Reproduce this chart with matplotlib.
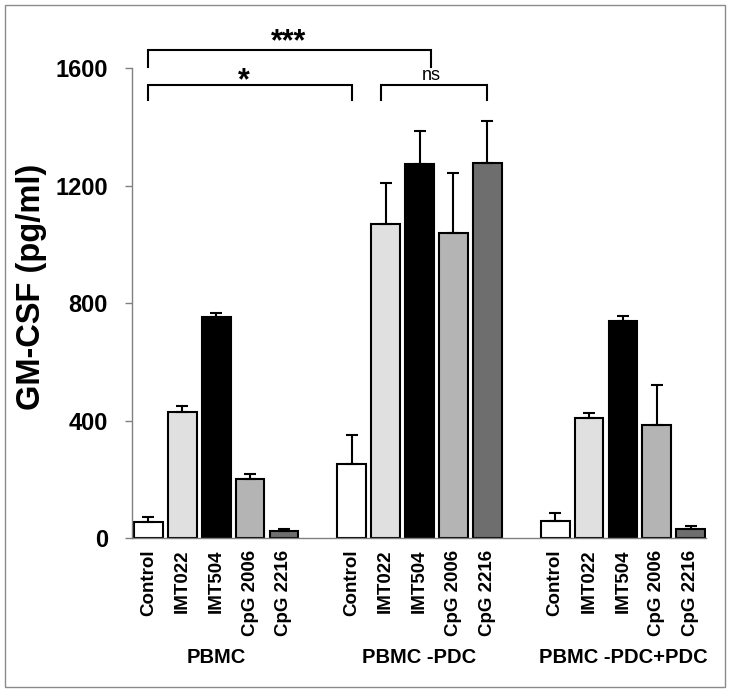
import matplotlib
matplotlib.use("Agg")
import matplotlib.pyplot as plt
from matplotlib.patches import Rectangle
import matplotlib.transforms as mtransforms

plt.rcParams['font.family'] = ['Liberation Sans', 'DejaVu Sans']

# ---- data ----
groups = ["PBMC", "PBMC -PDC", "PBMC -PDC+PDC"]
treatments = ["Control", "IMT022", "IMT504", "CpG 2006", "CpG 2216"]
colors = ["#ffffff", "#e0e0e0", "#000000", "#b4b4b4", "#6e6e6e"]

pbmc_mean = [56, 429, 753, 202, 26]
pbmc_err = [16, 22, 12, 16, 6]
minus_pdc_mean = [253, 1070, 1272, 1037, 1276]
minus_pdc_err = [100, 139, 114, 206, 145]
plus_pdc_mean = [60, 410, 738, 386, 31]
plus_pdc_err = [27, 17, 17, 135, 11]

means = [pbmc_mean, minus_pdc_mean, plus_pdc_mean]
errs = [pbmc_err, minus_pdc_err, plus_pdc_err]

y_ticks = [0, 400, 800, 1200, 1600]

# significance brackets: (x_left, x_right, y_line, y_leg_bottom, label, label_x, label_y, bold, size)
brackets = [
    (0, 8.35, 1660, 1605, "***", 4.13, 1662, True, 22),
    (0, 6, 1541, 1492, "*", 2.83, 1528, True, 22),
    (6.86, 10, 1541, 1492, "ns", 8.36, 1560, False, 13),
]

# ---- figure ----
W, H = 729, 691
fig = plt.figure(figsize=(W / 100, H / 100), dpi=100)
ax_left, ax_right, ax_top, ax_bottom = 131.7, 706, 68, 538.3
ax = fig.add_axes([ax_left / W, 1 - ax_bottom / H,
                   (ax_right - ax_left) / W, (ax_bottom - ax_top) / H])

positions = []
labels = []
for g in range(len(groups)):
    for j in range(len(treatments)):
        x = g * 6 + j
        positions.append(x)
        labels.append(treatments[j])
        ax.bar(x, means[g][j], width=0.85, color=colors[j],
               edgecolor="black", linewidth=1.5, zorder=2)
        ax.errorbar(x, means[g][j], yerr=[[0], [errs[g][j]]], fmt="none",
                    ecolor="black", elinewidth=1.5, capsize=4, capthick=1.5,
                    zorder=3)

ax.set_xlim(-0.49, 16.45)
ax.set_ylim(0, 1600)
ax.set_yticks(y_ticks)
ax.set_yticklabels([str(v) for v in y_ticks], fontsize=17, fontweight="bold")
ax.set_xticks(positions)
ax.set_xticklabels(labels, rotation=90, fontsize=13.5, fontweight="bold",
                   va="top", ha="center")
ax.tick_params(axis="x", length=0, pad=8)
ax.tick_params(axis="y", length=5, width=1, color="#808080", pad=12,
               direction="out")

for s in ["top", "right"]:
    ax.spines[s].set_visible(False)
for s in ["left", "bottom"]:
    ax.spines[s].set_color("#808080")
    ax.spines[s].set_linewidth(1)

# group labels
trans = mtransforms.blended_transform_factory(ax.transData, ax.transAxes)
for g, name in enumerate(groups):
    ax.text(g * 6 + 2, -0.2545, name, transform=trans, ha="center",
            va="center", fontsize=14.5, fontweight="bold")

# brackets
for xl, xr, yl, yb, lab, lx, ly, bold, size in brackets:
    ax.plot([xl, xl, xr, xr], [yb, yl, yl, yb], color="black", lw=1.5,
            clip_on=False, solid_joinstyle="miter", zorder=4)
    ax.text(lx, ly, lab, ha="center", va="baseline", fontsize=size,
            fontweight="bold" if bold else "normal", clip_on=False)

# y label
fig.text(32 / W, 1 - 287 / H, "GM-CSF (pg/ml)", rotation=90, ha="center",
         va="center", fontsize=23.5, fontweight="bold")

# outer border
fig.patches.append(Rectangle((5 / W, 4 / H), 720 / W, 682 / H,
                             transform=fig.transFigure, fill=False,
                             edgecolor="#8a8a8a", linewidth=1))

fig.savefig("out.png", dpi=100)
